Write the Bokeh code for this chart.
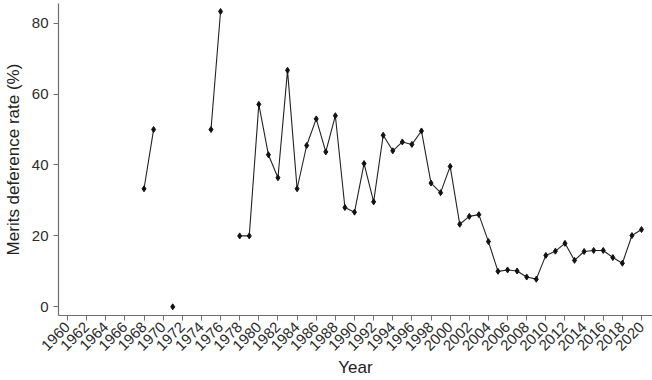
import numpy as np
from bokeh.plotting import figure
from bokeh.models import Range1d, FixedTicker, ColumnDataSource
from bokeh.embed import file_html
from bokeh.resources import INLINE

years = list(range(1960, 2021))
nan = float("nan")
rate_by_year = {
    1968: 33.3, 1969: 50.0, 1971: 0.0, 1975: 50.0, 1976: 83.3,
    1978: 20.0, 1979: 20.0, 1980: 57.1, 1981: 42.9, 1982: 36.4,
    1983: 66.7, 1984: 33.3, 1985: 45.5, 1986: 53.0, 1987: 43.7,
    1988: 53.9, 1989: 28.0, 1990: 26.7, 1991: 40.4, 1992: 29.6,
    1993: 48.4, 1994: 44.0, 1995: 46.5, 1996: 45.8, 1997: 49.6,
    1998: 34.9, 1999: 32.2, 2000: 39.6, 2001: 23.3, 2002: 25.5,
    2003: 26.0, 2004: 18.4, 2005: 10.0, 2006: 10.4, 2007: 10.1,
    2008: 8.4, 2009: 7.8, 2010: 14.5, 2011: 15.7, 2012: 17.9,
    2013: 13.1, 2014: 15.6, 2015: 15.9, 2016: 15.9, 2017: 13.9,
    2018: 12.3, 2019: 20.1, 2020: 21.8,
}
rates = [rate_by_year.get(y, nan) for y in years]
tick_years = list(range(1960, 2021, 2))
y_ticks = [0, 20, 40, 60, 80]

p = figure(width=652, height=380, output_backend="svg", toolbar_location=None,
           x_range=Range1d(1959.06, 2021.15), y_range=Range1d(-2.45, 85.55),
           min_border_left=57, min_border_right=0, min_border_top=3, min_border_bottom=64)
p.outline_line_color = None
p.grid.visible = False
p.background_fill_color = "white"
p.border_fill_color = "white"

line_src = ColumnDataSource(dict(x=years, y=rates))
p.line("x", "y", source=line_src, line_color="#222222", line_width=1.1)
pts = [(y, r) for y, r in zip(years, rates) if not np.isnan(r)]
p.scatter([a for a, _ in pts], [b for _, b in pts], marker="diamond", size=6,
          fill_color="#111111", line_color="#111111")

axis_col = "#6e6e6e"
for ax in (p.xaxis[0], p.yaxis[0]):
    ax.axis_line_color = axis_col
    ax.axis_line_width = 1.2
    ax.major_tick_line_color = axis_col
    ax.major_tick_in = 0
    ax.major_tick_out = 5
    ax.minor_tick_line_color = None
    ax.major_label_text_font = "Liberation Sans"
    ax.major_label_text_color = "#2b2b2b"
    ax.axis_label_text_font = "Liberation Sans"
    ax.axis_label_text_font_style = "normal"
    ax.axis_label_text_color = "#222222"
    ax.axis_label_text_font_size = "17px"

p.xaxis.ticker = FixedTicker(ticks=tick_years)
p.xaxis.major_label_orientation = 0.785
p.xaxis.major_label_text_font_size = "15px"
p.xaxis.major_label_standoff = 4
p.xaxis.axis_label = "Year"
p.xaxis.axis_label_standoff = 0

p.yaxis.ticker = FixedTicker(ticks=y_ticks)
p.yaxis.major_label_text_font_size = "15px"
p.yaxis.axis_label = "Merits deference rate (%)"
p.yaxis.axis_label_standoff = 6

open("out.html", "w").write(file_html(p, INLINE))
